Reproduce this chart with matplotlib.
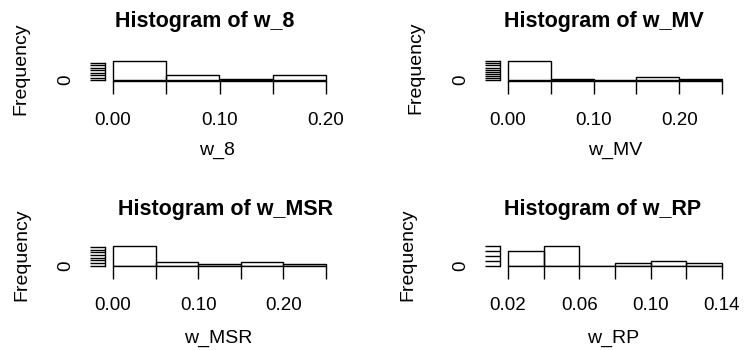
import matplotlib
matplotlib.use("Agg")
import matplotlib.pyplot as plt

plt.rcParams['font.family'] = ['Liberation Sans', 'DejaVu Sans']

# histogram bins and counts
breaks_8 = [0.00, 0.05, 0.10, 0.15, 0.20]
counts_8 = [39, 10, 3, 10]
xlabels_8 = ['0.00', '', '0.10', '', '0.20']
yticks_8 = [0, 5, 10, 15, 20, 25, 30, 35]

breaks_mv = [0.00, 0.05, 0.10, 0.15, 0.20, 0.25]
counts_mv = [46, 4, 0, 8, 4]
xlabels_mv = ['0.00', '', '0.10', '', '0.20', '']
yticks_mv = [0, 5, 10, 15, 20, 25, 30, 35, 40, 45]

breaks_msr = [0.00, 0.05, 0.10, 0.15, 0.20, 0.25]
counts_msr = [37, 6, 2, 6, 3]
xlabels_msr = ['0.00', '', '0.10', '', '0.20', '']
yticks_msr = [0, 5, 10, 15, 20, 25, 30, 35]

breaks_rp = [0.02, 0.04, 0.06, 0.08, 0.10, 0.12, 0.14]
counts_rp = [6, 8, 0, 1, 2, 1]
xlabels_rp = ['0.02', '', '0.06', '', '0.10', '', '0.14']
yticks_rp = [0, 2, 4, 6, 8]

names = ['w_8', 'w_MV', 'w_MSR', 'w_RP']

W, H = 745, 350
fig = plt.figure(figsize=(W / 100, H / 100), dpi=100)


def px(x, y):
    # pixel position (from top left) -> figure fraction
    return x / W, 1 - y / H


def hist_panel(rect, breaks, counts, xlabels, yticks, name, title_xy, freq_xy, xlab_xy):
    left, top, width, height = rect
    ax = fig.add_axes([left / W, 1 - (top + height) / H, width / W, height / H])
    widths = [b - a for a, b in zip(breaks[:-1], breaks[1:])]
    ax.bar(breaks[:-1], counts, width=widths, align='edge', fill=False,
           edgecolor='black', linewidth=1.0)

    span = breaks[-1] - breaks[0]
    ax.set_xlim(breaks[0] - 0.04 * span, breaks[-1] + 0.04 * span)
    ymax = max(counts)
    ax.set_ylim(-0.04 * ymax, 1.04 * ymax)

    for s in ['top', 'right']:
        ax.spines[s].set_visible(False)
    ax.spines['bottom'].set_bounds(breaks[0], breaks[-1])
    ax.spines['left'].set_bounds(yticks[0], yticks[-1])
    for s in ['bottom', 'left']:
        ax.spines[s].set_linewidth(1.0)

    ax.set_xticks(breaks)
    ax.set_xticklabels(xlabels)
    ax.set_yticks(yticks)
    ax.set_yticklabels(['0'] + [''] * (len(yticks) - 1), rotation=90, va='center')
    ax.tick_params(axis='x', direction='out', length=9, width=1.0, pad=13, labelsize=13.5)
    ax.tick_params(axis='y', direction='out', length=10.5, width=1.0, pad=11, labelsize=13.5)

    fx, fy = px(*title_xy)
    fig.text(fx, fy, 'Histogram of ' + name, ha='center', va='baseline',
             fontsize=15.5, fontweight='bold')
    fx, fy = px(*freq_xy)
    fig.text(fx, fy, 'Frequency', ha='center', va='center', rotation=90, fontsize=14)
    fx, fy = px(*xlab_xy)
    fig.text(fx, fy, name, ha='center', va='baseline', fontsize=14)
    return ax


hist_panel((104.5, 60, 230, 21), breaks_8, counts_8, xlabels_8, yticks_8, names[0],
           (205, 27), (21, 68.5), (217, 155))
hist_panel((499.5, 60, 231, 21), breaks_mv, counts_mv, xlabels_mv, yticks_mv, names[1],
           (604, 27), (416, 68), (615, 155))
hist_panel((104.5, 245.3, 230, 21), breaks_msr, counts_msr, xlabels_msr, yticks_msr, names[2],
           (225, 215), (21.5, 255), (218, 343))
hist_panel((499.5, 245.3, 231, 21), breaks_rp, counts_rp, xlabels_rp, yticks_rp, names[3],
           (603, 215), (407.5, 255), (613, 343))

fig.savefig('out.png', dpi=100)
